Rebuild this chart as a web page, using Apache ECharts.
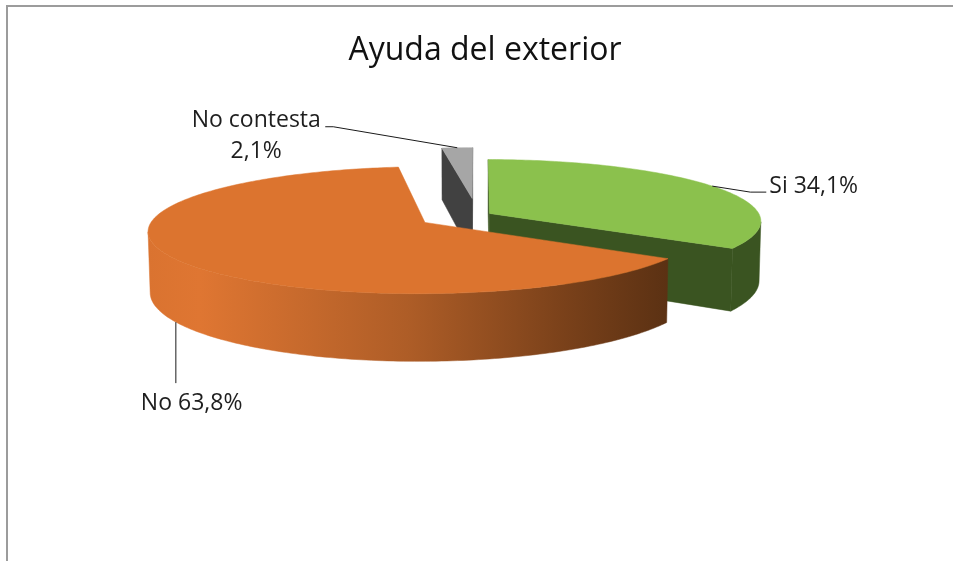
<!DOCTYPE html>
<html>
<head>
<meta charset="utf-8">
<script src="https://cdn.jsdelivr.net/npm/echarts@6/dist/echarts.min.js"></script>
<style>
  html, body { margin: 0; padding: 0; background: #fff; }
  #wrap { position: relative; width: 953px; height: 561px; overflow: hidden; }
  #frame { position: absolute; left: 6px; top: 5px; width: 960px; height: 600px;
           border-top: 2px solid #9c9c9c; border-left: 2px solid #9c9c9c; }
  #chart { position: absolute; left: 0; top: 0; width: 953px; height: 561px; }
</style>
</head>
<body>
<div id="wrap"><div id="frame"></div><div id="chart"></div></div>
<script>
// ---- data ----
const TITLE = 'Ayuda del exterior';
const CATEGORIES = ['Si', 'No', 'No contesta'];
const VALUES = [34.1, 63.8, 2.1];

// ---- style / view config ----
const TOP_COLORS = ['#8BC14D', '#DC742F', '#A6A6A6'];
const SIDE_COLORS = ['#3A5421', 'gradient', '#414141'];
const EXPLODE = [0.053, 0.225, 0.28];
const VIEW = { cx: 477, cy: 215, K: 270, sinA: 0.225, D: 8.1, H: 0.226 };
const FONT = '23px "Open Sans"';
// label layout relative to anchor: leader points, text position
const LABEL_LAYOUT = [
  { anchor: 'top', leader: [[0, 0], [38, 6], [54, 6]], text: [57, 0], align: 'left' },
  { anchor: 'bottom', leader: [[0, 0], [0, 61]], text: [-35, 81], align: 'left' },
  { anchor: 'top', leader: [[0, 0], [-124, -21], [-132, -21]], text: [-201, -12], align: 'center' }
];

const cosA = Math.sqrt(1 - VIEW.sinA * VIEW.sinA);
function proj(X, Y, Z) {
  const up = -Y * VIEW.sinA + Z * cosA;
  const dist = VIEW.D - (Y * cosA + Z * VIEW.sinA);
  const k = VIEW.D / dist;
  return [VIEW.cx + VIEW.K * X * k, VIEW.cy - VIEW.K * up * k];
}
const CAM = [0, VIEW.D * cosA, VIEW.D * VIEW.sinA];
function visible(n, p) {
  return n[0] * (CAM[0] - p[0]) + n[1] * (CAM[1] - p[1]) + n[2] * (CAM[2] - p[2]) > 0;
}
function fmt(v) { return v.toFixed(1).replace('.', ',') + '%'; }

const TOTAL = VALUES.reduce((a, b) => a + b, 0);

function renderItem(params, api) {
  const idx = params.dataIndex;
  const v = api.value(1);
  let before = 0;
  for (let i = 0; i < idx; i++) before += VALUES[i];
  const t0 = before / TOTAL * 2 * Math.PI;
  const t1 = (before + v) / TOTAL * 2 * Math.PI;
  const tm = (t0 + t1) / 2;
  const ox = EXPLODE[idx] * Math.sin(tm);
  const oy = -EXPLODE[idx] * Math.cos(tm);
  const H = VIEW.H;
  // depth rank (farther first)
  const depths = VALUES.map((val, i) => {
    let b = 0; for (let j = 0; j < i; j++) b += VALUES[j];
    const m = (b + val / 2) / TOTAL * 2 * Math.PI;
    return -Math.cos(m);
  });
  const order = depths.map((d, i) => i).sort((a, b) => depths[a] - depths[b]);
  const base = order.indexOf(idx) * 10;

  const arcP = (t, Z) => proj(ox + Math.sin(t), oy - Math.cos(t), Z);
  const steps = Math.max(2, Math.ceil((t1 - t0) / (Math.PI / 180)));
  const ts = [];
  for (let i = 0; i <= steps; i++) ts.push(t0 + (t1 - t0) * i / steps);

  let sideFill = SIDE_COLORS[idx];
  if (sideFill === 'gradient') {
    sideFill = new echarts.graphic.LinearGradient(0, 0, 1, 0, [
      { offset: 0, color: '#DA7330' },
      { offset: 0.1, color: '#DF7632' },
      { offset: 0.5, color: '#AE5D27' },
      { offset: 0.8, color: '#7A411A' },
      { offset: 1, color: '#5B3113' }
    ]);
  }
  const children = [];
  // outer wall runs
  let run = [];
  const flush = () => {
    if (run.length >= 2) {
      const pts = run.map(t => arcP(t, 0)).concat(run.slice().reverse().map(t => arcP(t, -H)));
      children.push({ type: 'polygon', z2: base + 1, shape: { points: pts },
        style: { fill: sideFill, stroke: sideFill, lineWidth: 0.5 } });
    }
    run = [];
  };
  for (let i = 0; i < steps; i++) {
    const m = (ts[i] + ts[i + 1]) / 2;
    const n = [Math.sin(m), -Math.cos(m), 0];
    const p = [ox + Math.sin(m), oy - Math.cos(m), -H / 2];
    if (visible(n, p)) {
      if (run.length === 0) run.push(ts[i]);
      run.push(ts[i + 1]);
    } else flush();
  }
  flush();
  // cut faces
  const cut = (t, sign) => {
    const n = [sign * Math.cos(t), sign * Math.sin(t), 0];
    const p = [ox + Math.sin(t) / 2, oy - Math.cos(t) / 2, -H / 2];
    if (!visible(n, p)) return;
    const pts = [proj(ox, oy, 0), arcP(t, 0), arcP(t, -H), proj(ox, oy, -H)];
    const f = SIDE_COLORS[idx] === 'gradient' ? '#A85A25' : SIDE_COLORS[idx];
    children.push({ type: 'polygon', z2: base + 1, shape: { points: pts },
      style: { fill: f, stroke: f, lineWidth: 0.5 } });
  };
  cut(t0, -1);
  cut(t1, 1);
  // top face
  const topPts = [proj(ox, oy, 0)].concat(ts.map(t => arcP(t, 0)));
  children.push({ type: 'polygon', z2: base + 2, shape: { points: topPts },
    style: { fill: TOP_COLORS[idx], stroke: TOP_COLORS[idx], lineWidth: 0.5 } });

  // label
  const L = LABEL_LAYOUT[idx];
  const a = arcP(tm, L.anchor === 'top' ? 0 : -H);
  const lead = L.leader.map(d => [a[0] + d[0], a[1] + d[1]]);
  children.push({ type: 'polyline', z2: 100, shape: { points: lead },
    style: { stroke: '#1a1a1a', lineWidth: 1, fill: null } });
  const txt = idx === 2 ? CATEGORIES[idx] + '\n' + fmt(v) : CATEGORIES[idx] + ' ' + fmt(v);
  children.push({ type: 'text', z2: 101,
    style: { text: txt, x: a[0] + L.text[0], y: a[1] + L.text[1], font: FONT,
      fill: '#1e1e1e', textAlign: L.align, textVerticalAlign: 'middle', lineHeight: 31 } });
  return { type: 'group', children: children };
}

const chart = echarts.init(document.getElementById('chart'), null, { renderer: 'canvas' });
chart.setOption({
  animation: false,
  backgroundColor: 'transparent',
  title: {
    text: TITLE, left: 480, top: 30, textAlign: 'center',
    textStyle: { fontFamily: 'Open Sans', fontSize: 32, fontWeight: 'normal', color: '#111' }
  },
  series: [{
    type: 'custom',
    coordinateSystem: 'none',
    renderItem: renderItem,
    data: VALUES.map((v, i) => [i, v])
  }]
});
</script>
</body>
</html>
